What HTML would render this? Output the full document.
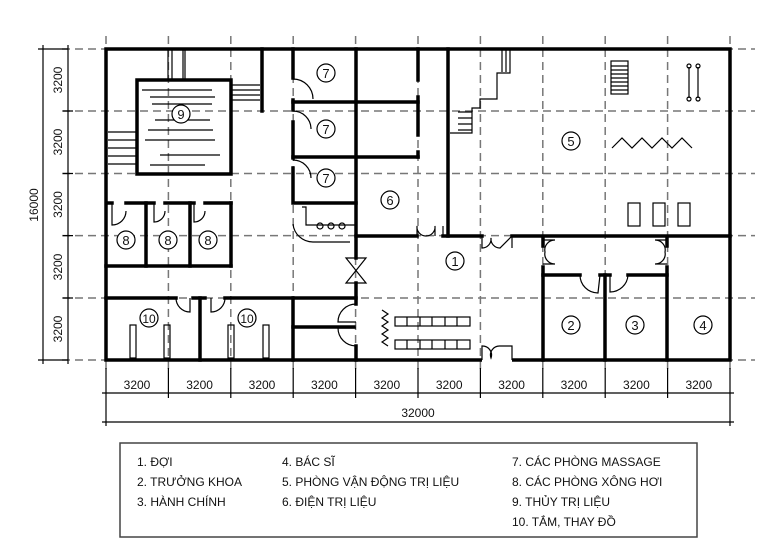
<!DOCTYPE html>
<html><head><meta charset="utf-8"><style>
html,body{margin:0;padding:0;background:#fff;width:774px;height:549px;overflow:hidden}
svg{display:block}
text{font-family:"Liberation Sans",sans-serif;fill:#111}
</style></head><body>
<svg width="774" height="549" viewBox="0 0 774 549" xmlns="http://www.w3.org/2000/svg">
<!-- grid -->
<g stroke="#777" stroke-width="1.5" stroke-dasharray="8,5" fill="none">
<line x1="106" y1="36" x2="106" y2="372"/><line x1="168.4" y1="36" x2="168.4" y2="372"/><line x1="230.8" y1="36" x2="230.8" y2="372"/><line x1="293.2" y1="36" x2="293.2" y2="372"/><line x1="355.6" y1="36" x2="355.6" y2="372"/><line x1="418" y1="36" x2="418" y2="372"/><line x1="480.4" y1="36" x2="480.4" y2="372"/><line x1="542.8" y1="36" x2="542.8" y2="372"/><line x1="605.2" y1="36" x2="605.2" y2="372"/><line x1="667.6" y1="36" x2="667.6" y2="372"/><line x1="730" y1="36" x2="730" y2="372"/>
<line x1="62" y1="49" x2="755" y2="49"/><line x1="62" y1="111" x2="755" y2="111"/><line x1="62" y1="173.5" x2="755" y2="173.5"/><line x1="62" y1="235.6" x2="755" y2="235.6"/><line x1="62" y1="298" x2="755" y2="298"/><line x1="62" y1="360" x2="755" y2="360"/>
</g>
<!-- walls -->
<g stroke="#000" stroke-width="3.5" fill="none" stroke-linecap="square">
<rect x="106" y="49" width="624" height="311"/>
<rect x="137" y="80" width="94" height="94"/>
<line x1="262" y1="49" x2="262" y2="111"/>
<polyline points="293,49 293,78"/><polyline points="293,100 293,110"/><polyline points="293,122 293,158"/><polyline points="293,168 293,203 356,203"/>
<line x1="293" y1="102" x2="418" y2="102"/><line x1="293" y1="157" x2="418" y2="157"/>
<line x1="356" y1="49" x2="356" y2="258"/><line x1="356" y1="283" x2="356" y2="304"/><line x1="356" y1="346" x2="356" y2="360"/>
<line x1="418" y1="49" x2="418" y2="80"/><line x1="418" y1="97" x2="418" y2="135"/><line x1="418" y1="152" x2="418" y2="157"/>
<line x1="356" y1="236" x2="417" y2="236"/><line x1="443" y1="236" x2="482" y2="236"/><line x1="512" y1="236" x2="730" y2="236"/>
<line x1="448" y1="49" x2="448" y2="236"/>
<line x1="108" y1="203" x2="112" y2="203"/><line x1="126" y1="203" x2="154" y2="203"/><line x1="165" y1="203" x2="194" y2="203"/><line x1="205" y1="203" x2="231" y2="203"/>
<line x1="106" y1="266" x2="231" y2="266"/><line x1="146" y1="203" x2="146" y2="266"/><line x1="190" y1="203" x2="190" y2="266"/><line x1="231" y1="203" x2="231" y2="266"/>
<line x1="106" y1="298" x2="176" y2="298"/><line x1="193" y1="298" x2="205" y2="298"/><line x1="225" y1="298" x2="356" y2="298"/>
<line x1="200" y1="298" x2="200" y2="360"/><line x1="293" y1="298" x2="293" y2="360"/><line x1="293" y1="327" x2="354" y2="327"/>
<line x1="543" y1="238" x2="543" y2="246"/><line x1="543" y1="267" x2="543" y2="360"/><line x1="543" y1="275" x2="580" y2="275"/><line x1="600" y1="275" x2="610" y2="275"/><line x1="628" y1="275" x2="667" y2="275"/>
<line x1="605" y1="275" x2="605" y2="360"/><line x1="667" y1="238" x2="667" y2="246"/><line x1="667" y1="267" x2="667" y2="360"/>
</g>
<!-- door gaps (white) -->
<g stroke="#fff" stroke-width="5">
<line x1="482" y1="360" x2="512" y2="360"/>
</g>
<!-- door arcs -->
<g stroke="#000" stroke-width="1.2" fill="none">
<path d="M293,79 A20,20 0 0 1 313,99"/><path d="M293,111 A18,18 0 0 1 311,129"/><path d="M293,160 A18,18 0 0 1 311,178"/>
<path d="M112,203 L112,225 A14,14 0 0 0 126,211"/><path d="M154,203 L154,222 A11,11 0 0 0 165,211"/><path d="M194,203 L194,222 A11,11 0 0 0 205,211"/>
<path d="M176,298 A14,14 0 0 0 190,312 L190,298"/><path d="M225,298 A14,14 0 0 1 211,312 L211,298"/>
<path d="M356,304 A18,18 0 0 0 338,322 L356,322 M356,328 L338,328 A18,18 0 0 0 356,346"/>
<path d="M346,258 L366,258 L346,283 L366,283 Z"/>
<path d="M417,236 L417,226 A9,9 0 0 0 426,236 A9,9 0 0 0 435,226 L435,236 M443,236 L443,226"/>
<path d="M482,236 L482,248 A9,9 0 0 0 491,238 A9,9 0 0 0 500,248 L512,236 L512,248"/>
<path d="M482,360 L482,346 A9,9 0 0 1 491,358 A9,9 0 0 1 500,346 L512,346 L512,360"/>
<path d="M543,240 L555,240 A10,10 0 0 0 545,252 A10,10 0 0 0 555,264 L543,264"/>
<path d="M667,240 L655,240 A10,10 0 0 1 665,252 A10,10 0 0 1 655,264 L667,264"/>
<path d="M580,275 A18,18 0 0 0 598,293 L600,275"/><path d="M610,275 L610,292 A18,18 0 0 0 628,275"/>
<path d="M302,207 L306,207 L306,225 L356,225 M293,224 A20,20 0 0 0 313,242 L350,242"/>
<circle cx="320" cy="226" r="3"/><circle cx="331" cy="226" r="3"/><circle cx="342" cy="226" r="3"/>
<path d="M382,310 l6,4 -6,4 6,4 -6,4 6,4 -6,4 6,4 -6,4 6,4"/>
<rect x="395" y="317" width="75" height="9"/><rect x="395" y="340" width="75" height="9"/>
<path d="M407,317v9M420,317v9M432,317v9M445,317v9M457,317v9M407,340v9M420,340v9M432,340v9M445,340v9M457,340v9"/>
<path d="M612,148 l10,-10 10,10 10,-10 10,10 10,-10 10,10 10,-10 10,10"/>
<rect x="628" y="203" width="12" height="23"/><rect x="653" y="203" width="12" height="23"/><rect x="678" y="203" width="12" height="23"/>
<path d="M689,67 V98 M698,67 V98"/><circle cx="689" cy="66" r="2"/><circle cx="698" cy="66" r="2"/><circle cx="689" cy="99" r="2"/><circle cx="698" cy="99" r="2"/>
<rect x="611" y="61" width="17" height="33"/><path d="M611,66h17M611,70h17M611,74h17M611,78h17M611,82h17M611,86h17M611,90h17"/>
<polyline points="510,49 510,73 497,73 497,99 480,99 480,108 472,108 472,133 450,133"/>
<path d="M502,50v22M506,50v22M458,112h14M458,118h14M458,124h14M458,130h14"/>
<path d="M168,49v31M172,49v31M183,49v31M185,49v31"/>
<path d="M232,85h28M232,90h28M232,95h28M232,100h28"/>
<path d="M108,132h28M108,140h28M108,148h28M108,156h28M108,164h28"/>
<path d="M142,90h70M150,97h65M152,104h60M155,120h55M148,130h65M145,140h70M160,155h60M150,165h55"/>
<rect x="130" y="325" width="6" height="33"/><rect x="164" y="325" width="6" height="33"/><rect x="228" y="325" width="6" height="33"/><rect x="263" y="325" width="6" height="33"/>
</g>
<!-- room labels -->
<g stroke="#000" stroke-width="1.2" fill="#fff">
<circle cx="181" cy="114" r="9"/><circle cx="326" cy="73" r="9"/><circle cx="326" cy="129" r="9"/><circle cx="326" cy="178" r="9"/><circle cx="390" cy="200" r="9"/>
<circle cx="126" cy="240" r="9"/><circle cx="168" cy="240" r="9"/><circle cx="208" cy="240" r="9"/><circle cx="149" cy="318" r="9"/><circle cx="247" cy="318" r="9"/>
<circle cx="455" cy="261" r="9"/><circle cx="571" cy="141" r="9"/><circle cx="571" cy="325" r="9"/><circle cx="635" cy="325" r="9"/><circle cx="703" cy="325" r="9"/>
</g>
<g font-size="13" text-anchor="middle">
<text x="181" y="119">9</text><text x="326" y="78">7</text><text x="326" y="134">7</text><text x="326" y="183">7</text><text x="390" y="205">6</text>
<text x="126" y="245">8</text><text x="168" y="245">8</text><text x="208" y="245">8</text><text x="149" y="323" font-size="12">10</text><text x="247" y="323" font-size="12">10</text>
<text x="455" y="266">1</text><text x="571" y="146">5</text><text x="571" y="330">2</text><text x="635" y="330">3</text><text x="703" y="330">4</text>
</g>
<!-- dimensions -->
<g stroke="#000" stroke-width="1.2" fill="none">
<line x1="68" y1="45" x2="68" y2="364"/><line x1="43" y1="45" x2="43" y2="364"/>
<path d="M38,49h30M63,111h10M63,173.5h10M63,235.6h10M63,298h10M38,360h30"/>
<line x1="102" y1="393" x2="734" y2="393"/><line x1="102" y1="422" x2="734" y2="422"/>
<path d="M106,368v58M168.4,368v30M230.8,368v30M293.2,368v30M355.6,368v30M418,368v30M480.4,368v30M542.8,368v30M605.2,368v30M667.6,368v30M730,368v58"/>
</g>
<g font-size="12" text-anchor="middle">
<text x="137" y="389">3200</text><text x="199.6" y="389">3200</text><text x="262" y="389">3200</text><text x="324.4" y="389">3200</text><text x="386.8" y="389">3200</text><text x="449.2" y="389">3200</text><text x="511.6" y="389">3200</text><text x="574" y="389">3200</text><text x="636.4" y="389">3200</text><text x="698.8" y="389">3200</text>
<text x="418" y="417">32000</text>
<text transform="translate(62,80) rotate(-90)">3200</text><text transform="translate(62,142) rotate(-90)">3200</text><text transform="translate(62,204.5) rotate(-90)">3200</text><text transform="translate(62,267) rotate(-90)">3200</text><text transform="translate(62,329) rotate(-90)">3200</text>
<text transform="translate(38,205) rotate(-90)">16000</text>
</g>
<!-- legend -->
<rect x="120" y="443" width="577" height="94" fill="none" stroke="#444" stroke-width="1.5"/>
<g font-size="12">
<text x="137" y="466">1. ĐỢI</text><text x="137" y="486">2. TRƯỞNG KHOA</text><text x="137" y="506">3. HÀNH CHÍNH</text>
<text x="282" y="466">4. BÁC SĨ</text><text x="282" y="486">5. PHÒNG VẬN ĐỘNG TRỊ LIỆU</text><text x="282" y="506">6. ĐIỆN TRỊ LIỆU</text>
<text x="512" y="466">7. CÁC PHÒNG MASSAGE</text><text x="512" y="486">8. CÁC PHÒNG XÔNG HƠI</text><text x="512" y="506">9. THỦY TRỊ LIỆU</text><text x="512" y="526">10. TẮM, THAY ĐỒ</text>
</g>
</svg>
</body></html>
